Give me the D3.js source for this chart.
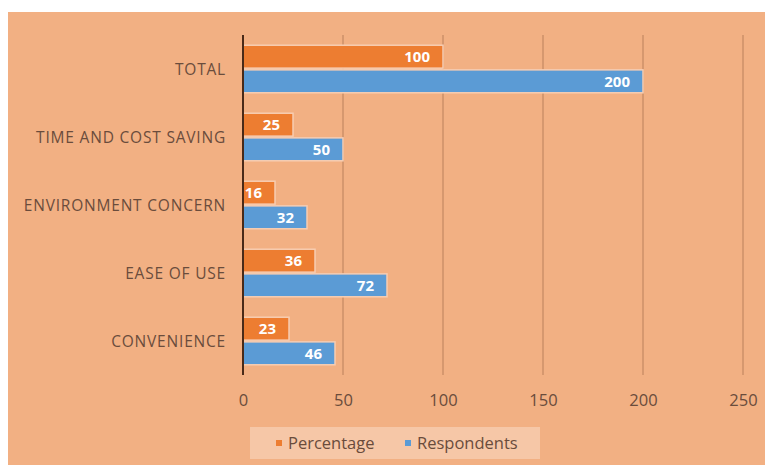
<!DOCTYPE html>
<html>
<head>
<meta charset="utf-8">
<script src="https://cdn.jsdelivr.net/npm/d3@7"></script>
<style>
  html, body { margin: 0; padding: 0; background: #ffffff; }
  svg { display: block; }
</style>
</head>
<body>
<svg id="chart" width="765" height="465"></svg>
<script>
// Survey reasons, top to bottom
const categories = ["TOTAL", "TIME AND COST SAVING", "ENVIRONMENT CONCERN", "EASE OF USE", "CONVENIENCE"];
const seriesNames = ["Percentage", "Respondents"];
const percentage = [100, 25, 16, 36, 23];
const respondents = [200, 50, 32, 72, 46];
const xTicks = [0, 50, 100, 150, 200, 250];

const colors = { Percentage: "#ed7d31", Respondents: "#5b9bd5" };
const seriesValues = { Percentage: percentage, Respondents: respondents };
const FONT = "'Open Sans', Lato, sans-serif";
const TEXT_COLOR = "#6a4c3c";

const svg = d3.select("#chart");
const W = 765, H = 465;

// Chart area background
svg.append("rect")
  .attr("x", 8).attr("y", 12)
  .attr("width", W - 8).attr("height", H - 12)
  .attr("fill", "#f2b083");

const plot = { left: 243, right: 743, top: 35, bottom: 375 };

const x = d3.scaleLinear().domain([0, 250]).range([plot.left, plot.right]);
const y = d3.scaleBand().domain(categories).range([plot.top, plot.bottom])
  .paddingInner(0.25).paddingOuter(0.125);
const ySub = d3.scaleBand().domain(seriesNames).range([0, y.bandwidth()]).padding(0.07);

// Vertical gridlines
svg.append("g")
  .selectAll("line")
  .data(xTicks.filter(d => d > 0))
  .join("line")
  .attr("x1", d => x(d)).attr("x2", d => x(d))
  .attr("y1", plot.top).attr("y2", plot.bottom)
  .attr("stroke", "#ad7652")
  .attr("stroke-opacity", 0.8)
  .attr("stroke-width", 1);

// Bars
const rows = categories.map((c, i) => ({
  category: c,
  values: seriesNames.map(s => ({ series: s, value: seriesValues[s][i] }))
}));

const groups = svg.append("g").selectAll("g")
  .data(rows)
  .join("g")
  .attr("transform", d => `translate(0,${y(d.category)})`);

groups.selectAll("rect")
  .data(d => d.values)
  .join("rect")
  .attr("x", x(0))
  .attr("y", d => ySub(d.series))
  .attr("width", d => x(d.value) - x(0))
  .attr("height", ySub.bandwidth())
  .attr("fill", d => colors[d.series])
  .attr("stroke", "#f7cdb2")
  .attr("stroke-width", 1.5);

groups.selectAll("text")
  .data(d => d.values)
  .join("text")
  .attr("x", d => x(d.value) - 13)
  .attr("y", d => ySub(d.series) + ySub.bandwidth() / 2)
  .attr("dy", "0.36em")
  .attr("text-anchor", "end")
  .attr("font-family", FONT)
  .attr("font-weight", "bold")
  .attr("font-size", 15)
  .attr("fill", "#ffffff")
  .text(d => d.value);

// Category labels
svg.append("g")
  .selectAll("text")
  .data(categories)
  .join("text")
  .attr("x", 226)
  .attr("y", d => y(d) + y.bandwidth() / 2)
  .attr("dy", "0.36em")
  .attr("text-anchor", "end")
  .attr("font-family", FONT)
  .attr("font-size", 15.5)
  .attr("letter-spacing", "0.8px")
  .attr("fill", TEXT_COLOR)
  .text(d => d);

// Value axis tick labels
const xAxis = d3.axisBottom(x).tickValues(xTicks).tickSize(0).tickPadding(0);
const axisG = svg.append("g")
  .attr("transform", `translate(0,${plot.bottom + 25})`)
  .call(xAxis);
axisG.select(".domain").remove();
axisG.selectAll("text")
  .attr("font-family", FONT)
  .attr("font-size", 16.5)
  .attr("fill", TEXT_COLOR)
  .attr("dy", "0.36em");

// Category axis line
svg.append("line")
  .attr("x1", x(0)).attr("x2", x(0))
  .attr("y1", plot.top).attr("y2", plot.bottom)
  .attr("stroke", "#4a2a18")
  .attr("stroke-width", 2);

// Legend
const legend = svg.append("g");
legend.append("rect")
  .attr("x", 250).attr("y", 427)
  .attr("width", 290).attr("height", 32)
  .attr("fill", "#f6c7a7");
const legendItems = [
  { name: "Percentage", sx: 276, tx: 288 },
  { name: "Respondents", sx: 405, tx: 417 }
];
legendItems.forEach(item => {
  legend.append("rect")
    .attr("x", item.sx).attr("y", 440)
    .attr("width", 6).attr("height", 6)
    .attr("fill", colors[item.name]);
  legend.append("text")
    .attr("x", item.tx).attr("y", 443)
    .attr("dy", "0.36em")
    .attr("font-family", FONT)
    .attr("font-size", 16.5)
    .attr("fill", TEXT_COLOR)
    .text(item.name);
});
</script>
</body>
</html>
